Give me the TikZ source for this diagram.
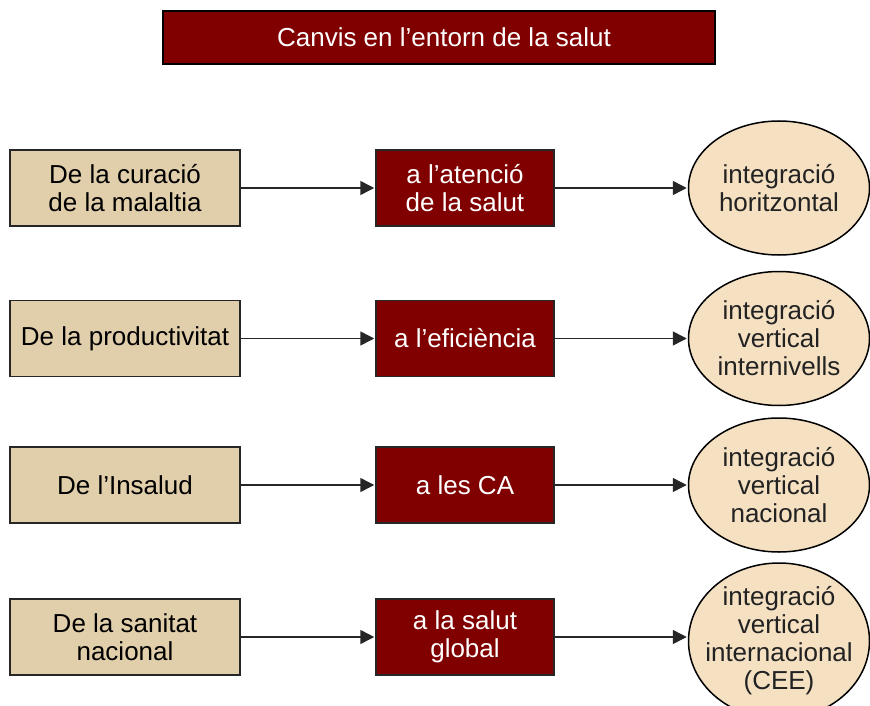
\documentclass[tikz,border=0pt]{standalone}
\usepackage{fontspec}
\setmainfont{Liberation Sans}
\usetikzlibrary{shapes.geometric,arrows.meta}
\definecolor{darkred}{HTML}{800000}
\definecolor{tanbox}{HTML}{E1CEAB}
\definecolor{ellfill}{HTML}{F5E1C2}
\definecolor{txtgray}{HTML}{222222}
\begin{document}
\begin{tikzpicture}[x=1pt,y=-1pt,
  every node/.style={font=\fontsize{26}{28}\selectfont, align=center, inner sep=0pt},
  leftbox/.style={draw=black!85, line width=1.5pt, fill=tanbox, minimum width=230pt, minimum height=76pt, text=black},
  midbox/.style={draw=black!85, line width=1.5pt, fill=darkred, minimum width=178pt, minimum height=76pt, text=white},
  ell/.style={ellipse, draw=black, line width=1.5pt, fill=ellfill, minimum width=181pt, minimum height=134pt, inner sep=-14pt, text=txtgray},
  arr/.style={draw=black!85, line width=1.5pt, -{Triangle[length=14pt,width=14pt]}, shorten >=1pt}
]
\useasboundingbox (0,0) rectangle (870,706);
\node[draw=black, line width=1.5pt, fill=darkred, minimum width=552pt, minimum height=53pt, text=white, font=\fontsize{26}{28}\selectfont] (title) at (439,37.5) {\hspace*{10pt}Canvis en l’entorn de la salut};

\node[leftbox] (l1) at (125,188) {De la curació\\de la malaltia};
\node[midbox] (m1) at (465,188) {a l’atenció\\de la salut};
\node[ell] (e1) at (779,188) {integració\\horitzontal};

\node[leftbox] (l2) at (125,338.5) {De la productivitat};
\node[midbox] (m2) at (465,338.5) {a l’eficiència};
\node[ell] (e2) at (779,338.5) {integració\\vertical\\internivells};

\node[leftbox] (l3) at (125,485) {De l’Insalud};
\node[midbox] (m3) at (465,485) {a les CA};
\node[ell] (e3) at (779,485) {integració\\vertical\\nacional};

\node[leftbox] (l4) at (125,637) {De la sanitat\\nacional};
\node[midbox] (m4) at (465,637) {a la salut\\global};
\node[ell, minimum height=156pt, inner sep=-16pt] (e4) at (779,641) {integració\\vertical\\internacional\\(CEE)};

\foreach \i in {1,2,3,4} {
  \draw[arr] (l\i.east) -- (m\i.west);
  \draw[arr] (m\i.east) -- (m\i.east -| e\i.west);
}
\end{tikzpicture}
\end{document}
